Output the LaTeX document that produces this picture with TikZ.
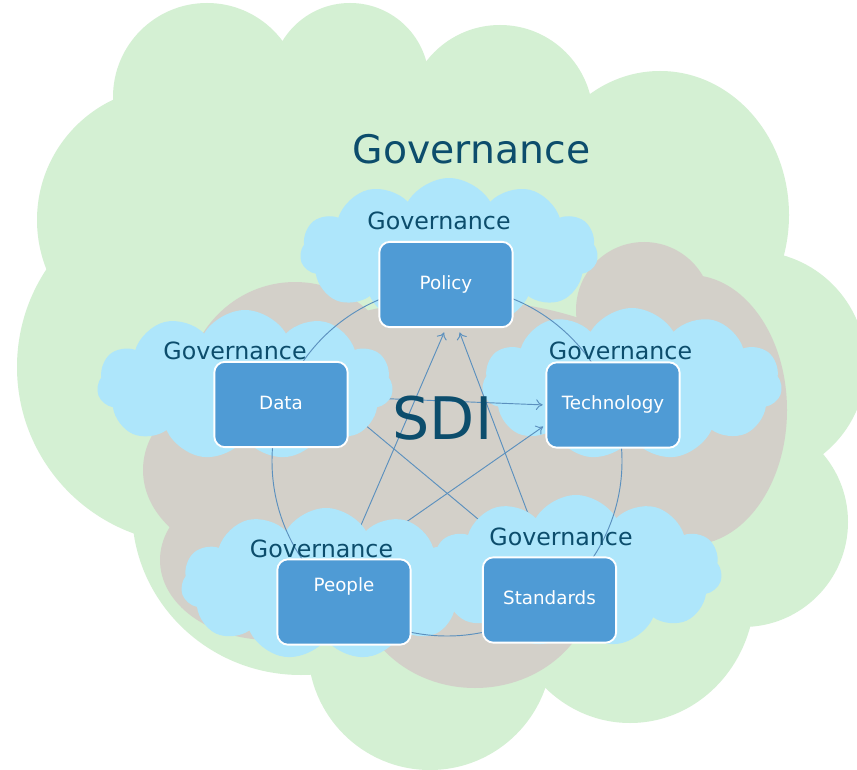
\documentclass[tikz,border=0pt]{standalone}
\usepackage{fontspec}
\setmainfont{DejaVu Sans}
\usetikzlibrary{shapes.symbols,arrows.meta}

\definecolor{leafgreen}{HTML}{D4F0D3}
\definecolor{stonegray}{HTML}{D3D0C9}
\definecolor{skyblue}{HTML}{AEE6FB}
\definecolor{boxblue}{HTML}{4F9BD5}
\definecolor{inkblue}{HTML}{0C4D6C}
\definecolor{spokeblue}{HTML}{5B90BE}

\pgfdeclarelayer{sky}
\pgfdeclarelayer{links}
\pgfdeclarelayer{puffs}
\pgfdeclarelayer{ring}
\pgfsetlayers{sky,links,puffs,ring,main}

\begin{document}
\begin{tikzpicture}[x=0.75pt, y=-0.75pt,
    pillar/.style={rectangle, rounded corners=8pt, fill=boxblue, draw=white, line width=1.4pt,
        minimum width=100pt, minimum height=64pt, text=white,
        font=\fontsize{13.7}{16}\selectfont, text height=1.5ex, text depth=.25ex},
    puff/.style={cloud, cloud puffs=11, cloud puff arc=120, cloud ignores aspect,
        fill=skyblue, inner sep=0pt},
    govlabel/.style={text=inkblue, font=\fontsize{17.8}{20}\selectfont},
    spoke/.style={spokeblue, line width=0.7pt},
    arrowed/.style={-{To[length=5pt,width=8pt]}, shorten >=2pt}
]
\useasboundingbox (0,0) rectangle (857,770);

% the five parts
\node[pillar] (policy) at (446,284.5) {Policy};
\node[pillar] (data) at (281,404.5) {Data};
\node[pillar] (tech) at (613,405) {Technology};
\node[pillar, text depth=24pt] (people) at (344,602) {People};
\node[pillar] (standards) at (549.5,600) {Standards};

\node[govlabel, font=\fontsize{29.5}{32}\selectfont] (govouter) at (471.5,149.5) {Governance};
\node[govlabel] (govpolicy) at (439,220.5) {Governance};
\node[govlabel] (govdata) at (235,351) {Governance};
\node[govlabel] (govtech) at (620.5,350.5) {Governance};
\node[govlabel] (govpeople) at (321.5,549) {Governance};
\node[govlabel] (govstandards) at (561,537) {Governance};
\node[text=inkblue, font=\fontsize{44}{48}\selectfont] (sdi) at (442.5,418.5) {SDI};

\coordinate (hub) at (447,461);

\begin{pgfonlayer}{sky}
    \fill[white] (0,0) rectangle (857,770);
    % outer cloud
    \foreach \cx/\cy/\rx/\ry in {207/97/94/94, 350/82/79/79, 500/118/93/93,
        660/215/129/144, 752/365/114/114, 743/522/105/105, 630/590/125/133,
        430/648/122/122, 301/510/169/165, 194/367/177/177, 170/220/133/133,
        280/170/95/95, 440/400/330/270}
        \fill[leafgreen] (\cx,\cy) ellipse[x radius=\rx, y radius=\ry];
    % inner cloud
    \foreach \cx/\cy/\rx/\ry in {295/395/110/113, 644/310/68/68, 690/410/97/135,
        660/470/95/80, 475/580/120/108, 260/470/117/90, 270/560/110/80,
        460/450/250/150}
        \fill[stonegray] (\cx,\cy) ellipse[x radius=\rx, y radius=\ry];
    \node[puff, minimum width=223.5pt, minimum height=111pt] (cpolicy) at (449,252) {};
    \node[puff, minimum width=225pt, minimum height=114pt] (ctech) at (632,384) {};
\end{pgfonlayer}

\begin{pgfonlayer}{links}
    \draw[spoke, arrowed, shorten >=3.5pt] ([xshift=2pt]people.north) -- (policy.south);
    \draw[spoke, arrowed, shorten >=3.5pt] ([xshift=-4pt]standards.north) -- ([xshift=9pt]policy.south);
    \draw[spoke, arrowed] ([yshift=5.5pt]data.east) -- (tech.west);
    \draw[spoke, arrowed] ([xshift=7.5pt]people.north) -- ([yshift=-15pt]tech.west);
    \draw[spoke] ([yshift=-5pt]data.east) -- ([xshift=-20pt]standards.north);
\end{pgfonlayer}

\begin{pgfonlayer}{puffs}
    \node[puff, minimum width=222pt, minimum height=112.5pt] (cdata) at (245,385) {};
    \node[puff, minimum width=217.5pt, minimum height=114pt] (cpeople) at (326,584) {};
    \node[puff, minimum width=219pt, minimum height=114pt] (cstandards) at (576,571) {};
\end{pgfonlayer}

\begin{pgfonlayer}{ring}
    \draw[spoke] (hub) circle[radius=175];
\end{pgfonlayer}

\end{tikzpicture}
\end{document}
